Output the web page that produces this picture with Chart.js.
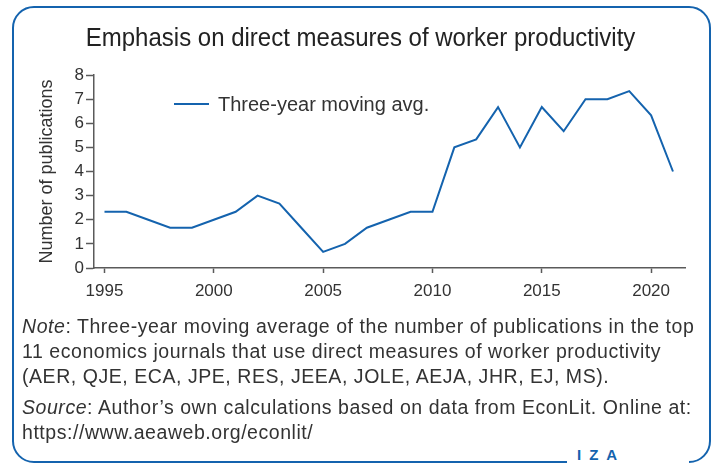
<!DOCTYPE html>
<html>
<head>
<meta charset="utf-8">
<script src="https://cdn.jsdelivr.net/npm/chart.js@4/dist/chart.umd.min.js"></script>
<style>
  html, body { margin: 0; padding: 0; background: #fff; }
  body { width: 721px; height: 466px; position: relative; overflow: hidden; font-family: "Liberation Sans", Arial, sans-serif; color: #333; }
  #frame { position: absolute; left: 12px; top: 6px; width: 699px; height: 457px; box-sizing: border-box; border: 2.5px solid #1463ae; border-radius: 22px; }
  #chart { position: absolute; left: 0; top: 0; }
  #title { position: absolute; left: 0; width: 721px; top: 23px; text-align: center; font-size: 25px; color: #222; white-space: nowrap; transform: scaleX(0.96); transform-origin: 362px 0; }
  .note { position: absolute; left: 22px; font-size: 19.5px; letter-spacing: 0.55px; line-height: 25px; color: #333; white-space: nowrap; }
  #logoGap { position: absolute; left: 567px; top: 455px; width: 122px; height: 11px; background: #fff; }
  #logo { position: absolute; left: 577px; top: 447px; font-size: 15px; font-weight: bold; letter-spacing: 8px; color: #1463ae; line-height: 15px; }
</style>
</head>
<body>
<div id="frame"></div>
<div id="logoGap"></div>
<div id="logo">IZA</div>
<canvas id="chart" width="721" height="466"></canvas>
<div id="title">Emphasis on direct measures of worker productivity</div>
<div class="note" style="top:314px"><i>Note</i>: Three-year moving average of the number of publications in the top<br>11 economics journals that use direct measures of worker productivity<br>(AER, QJE, ECA, JPE, RES, JEEA, JOLE, AEJA, JHR, EJ, MS).</div>
<div class="note" style="top:395px"><i>Source</i>: Author’s own calculations based on data from EconLit. Online at:<br>https://www.aeaweb.org/econlit/</div>
<script>
// Publication years and three-year moving average of publications
const years = [1995, 1996, 1997, 1998, 1999, 2000, 2001, 2002, 2003, 2004, 2005, 2006, 2007, 2008,
               2009, 2010, 2011, 2012, 2013, 2014, 2015, 2016, 2017, 2018, 2019, 2020, 2021];
const movingAvg = [2.33, 2.33, 2.0, 1.67, 1.67, 2.0, 2.33, 3.0, 2.67, 1.67, 0.67, 1.0, 1.67, 2.0,
                   2.33, 2.33, 5.0, 5.33, 6.67, 5.0, 6.67, 5.67, 7.0, 7.0, 7.33, 6.33, 4.0];
const xTicks = [1995, 2000, 2005, 2010, 2015, 2020];
const seriesLabel = 'Three-year moving avg.';
const yTitle = 'Number of publications';

const axisColor = '#5a5a5a';
const lineColor = '#1463ae';
const textColor = '#333';

// In-plot legend: a short line sample followed by the series label
const insetLegend = {
  id: 'insetLegend',
  afterDraw(chart) {
    const ctx = chart.ctx;
    const ds = chart.data.datasets[0];
    const x0 = chart.chartArea.left + 80, y0 = chart.chartArea.top + 29;
    ctx.save();
    ctx.strokeStyle = ds.borderColor;
    ctx.lineWidth = 2;
    ctx.beginPath();
    ctx.moveTo(x0, y0);
    ctx.lineTo(x0 + 35, y0);
    ctx.stroke();
    ctx.fillStyle = textColor;
    ctx.font = '20px "Liberation Sans", Arial, sans-serif';
    ctx.textBaseline = 'middle';
    ctx.fillText(ds.label, x0 + 44, y0 + 1);
    ctx.restore();
  }
};

new Chart(document.getElementById('chart'), {
  type: 'line',
  data: {
    datasets: [{
      label: seriesLabel,
      data: years.map((y, i) => ({ x: y, y: movingAvg[i] })),
      borderColor: lineColor,
      borderWidth: 2,
      pointRadius: 0,
      tension: 0,
      fill: false
    }]
  },
  options: {
    responsive: false,
    animation: false,
    layout: { padding: { left: 30, top: 75, right: 36, bottom: 168 } },
    plugins: { legend: { display: false }, tooltip: { enabled: false }, title: { display: false } },
    scales: {
      x: {
        type: 'linear',
        min: 1994.52,
        max: 2021.55,
        afterBuildTicks(scale) { scale.ticks = xTicks.map(v => ({ value: v })); },
        afterFit(scale) { scale.height = 30; },
        ticks: {
          callback: v => String(v),
          color: textColor,
          font: { family: '"Liberation Sans", Arial, sans-serif', size: 17 },
          padding: 8,
          maxRotation: 0
        },
        grid: { drawOnChartArea: false, drawTicks: true, tickLength: 5, tickColor: axisColor, tickWidth: 1.5 },
        border: { color: axisColor, width: 1.5 }
      },
      y: {
        min: 0,
        max: 8,
        afterFit(scale) { scale.width = 64; },
        ticks: {
          stepSize: 1,
          color: textColor,
          font: { family: '"Liberation Sans", Arial, sans-serif', size: 17 },
          padding: 2
        },
        title: {
          display: true,
          text: yTitle,
          color: textColor,
          font: { family: '"Liberation Sans", Arial, sans-serif', size: 18 },
          padding: { top: 6, bottom: 0 }
        },
        grid: { drawOnChartArea: false, drawTicks: true, tickLength: 8, tickColor: axisColor, tickWidth: 1.5 },
        border: { color: axisColor, width: 1.5 }
      }
    }
  },
  plugins: [insetLegend]
});
</script>
</body>
</html>
